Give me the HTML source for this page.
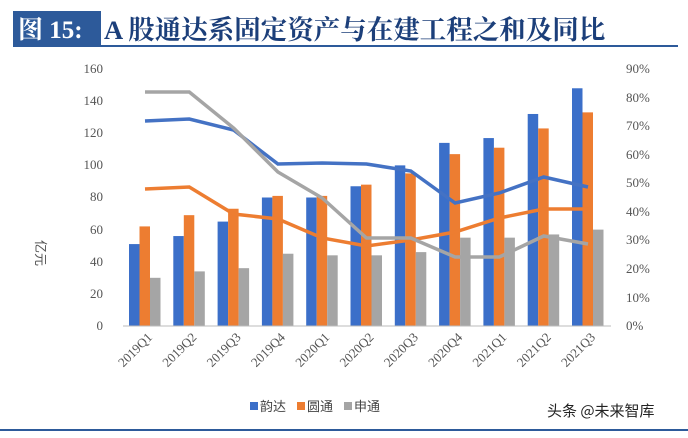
<!DOCTYPE html><html><head><meta charset="utf-8"><style>
body{margin:0;width:688px;height:433px;background:#fff;overflow:hidden;font-family:"Liberation Serif","Noto Serif CJK SC",serif}
</style></head><body>
<svg width="688" height="433" xmlns="http://www.w3.org/2000/svg">
<rect x="13" y="11" width="88" height="34" fill="#2d5a9a"/>
<text x="18" y="38" fill="#fff" font-size="25" font-weight="bold" font-family="Liberation Serif,Noto Serif CJK SC,serif">图 15:</text>
<text x="104" y="39" fill="#1c3f7a" font-size="26.5" font-weight="bold" font-family="Liberation Serif,Noto Serif CJK SC,serif">A 股通达系固定资产与在建工程之和及同比</text>
<rect x="13" y="45" width="665" height="2" fill="#2d5a9a"/>
<rect x="0" y="429" width="688" height="2" fill="#2d5a9a"/>
<g font-size="13" fill="#555" font-family="Liberation Serif,serif" text-anchor="end">
<text x="103" y="73">160</text><text x="103" y="105">140</text><text x="103" y="137">120</text><text x="103" y="169">100</text><text x="103" y="201">80</text><text x="103" y="234">60</text><text x="103" y="266">40</text><text x="103" y="298">20</text><text x="103" y="330">0</text>
</g>
<g font-size="13" fill="#555" font-family="Liberation Serif,serif">
<text x="626" y="73">90%</text><text x="626" y="102">80%</text><text x="626" y="130">70%</text><text x="626" y="159">60%</text><text x="626" y="187">50%</text><text x="626" y="216">40%</text><text x="626" y="244">30%</text><text x="626" y="273">20%</text><text x="626" y="302">10%</text><text x="626" y="330">0%</text>
</g>
<text transform="translate(36,240) rotate(90)" font-size="13" fill="#555" font-family="Noto Sans CJK SC,sans-serif">亿元</text>
<g id="bars"></g>
<line x1="123" y1="326" x2="611" y2="326" stroke="#bbb"/>
<script>
var g=document.getElementById('bars'),ns="http://www.w3.org/2000/svg";
var a=[51,56,65,80,80,87,100,114,117,132,148],b=[62,69,73,81,81,88,95,107,111,123,133],c=[30,34,36,45,44,44,46,55,55,57,60];
function px(v){return 326-v*257/160}
var cols=['#3b6fc9','#ed7d31','#a5a5a5'];
var labs=['2019Q1','2019Q2','2019Q3','2019Q4','2020Q1','2020Q2','2020Q3','2020Q4','2021Q1','2021Q2','2021Q3'];
for(var i=0;i<11;i++){var cx=145+i*44.3;[a,b,c].forEach(function(s,k){var r=document.createElementNS(ns,'rect');var y=px(s[i]);r.setAttribute('x',cx-16+k*10.5);r.setAttribute('y',y);r.setAttribute('width',10.5);r.setAttribute('height',326-y);r.setAttribute('fill',cols[k]);g.appendChild(r);});
var t=document.createElementNS(ns,'text');t.setAttribute('transform','translate('+(cx+8)+',338) rotate(-45)');t.setAttribute('text-anchor','end');t.setAttribute('font-size','13');t.setAttribute('fill','#555');t.textContent=labs[i];g.appendChild(t);}
var L=[[121,119,130,164,163,164,171,203,193,177,187],[189,187,214,219,238,246,240,232,218,209,209],[92,92,128,172,198,238,238,257,257,236,244]];
var lc=['#4472c4','#ed7d31','#a5a5a5'];
L.forEach(function(s,k){var p=document.createElementNS(ns,'polyline');p.setAttribute('points',s.map(function(y,i){return (145+i*44.3)+','+y}).join(' '));p.setAttribute('fill','none');p.setAttribute('stroke',lc[k]);p.setAttribute('stroke-width','3.5');g.parentNode.appendChild(p);});
</script>
<g font-size="13" fill="#444" font-family="Noto Sans CJK SC,sans-serif">
<rect x="250" y="402" width="8" height="8" fill="#3b6fc9"/><text x="260" y="411">韵达</text>
<rect x="297" y="402" width="8" height="8" fill="#ed7d31"/><text x="307" y="411">圆通</text>
<rect x="344" y="402" width="8" height="8" fill="#a5a5a5"/><text x="354" y="411">申通</text>
</g>
<text x="547" y="416" font-size="15" fill="#222" font-family="Noto Sans CJK SC,sans-serif">头条 @未来智库</text>
</svg>
</body></html>
